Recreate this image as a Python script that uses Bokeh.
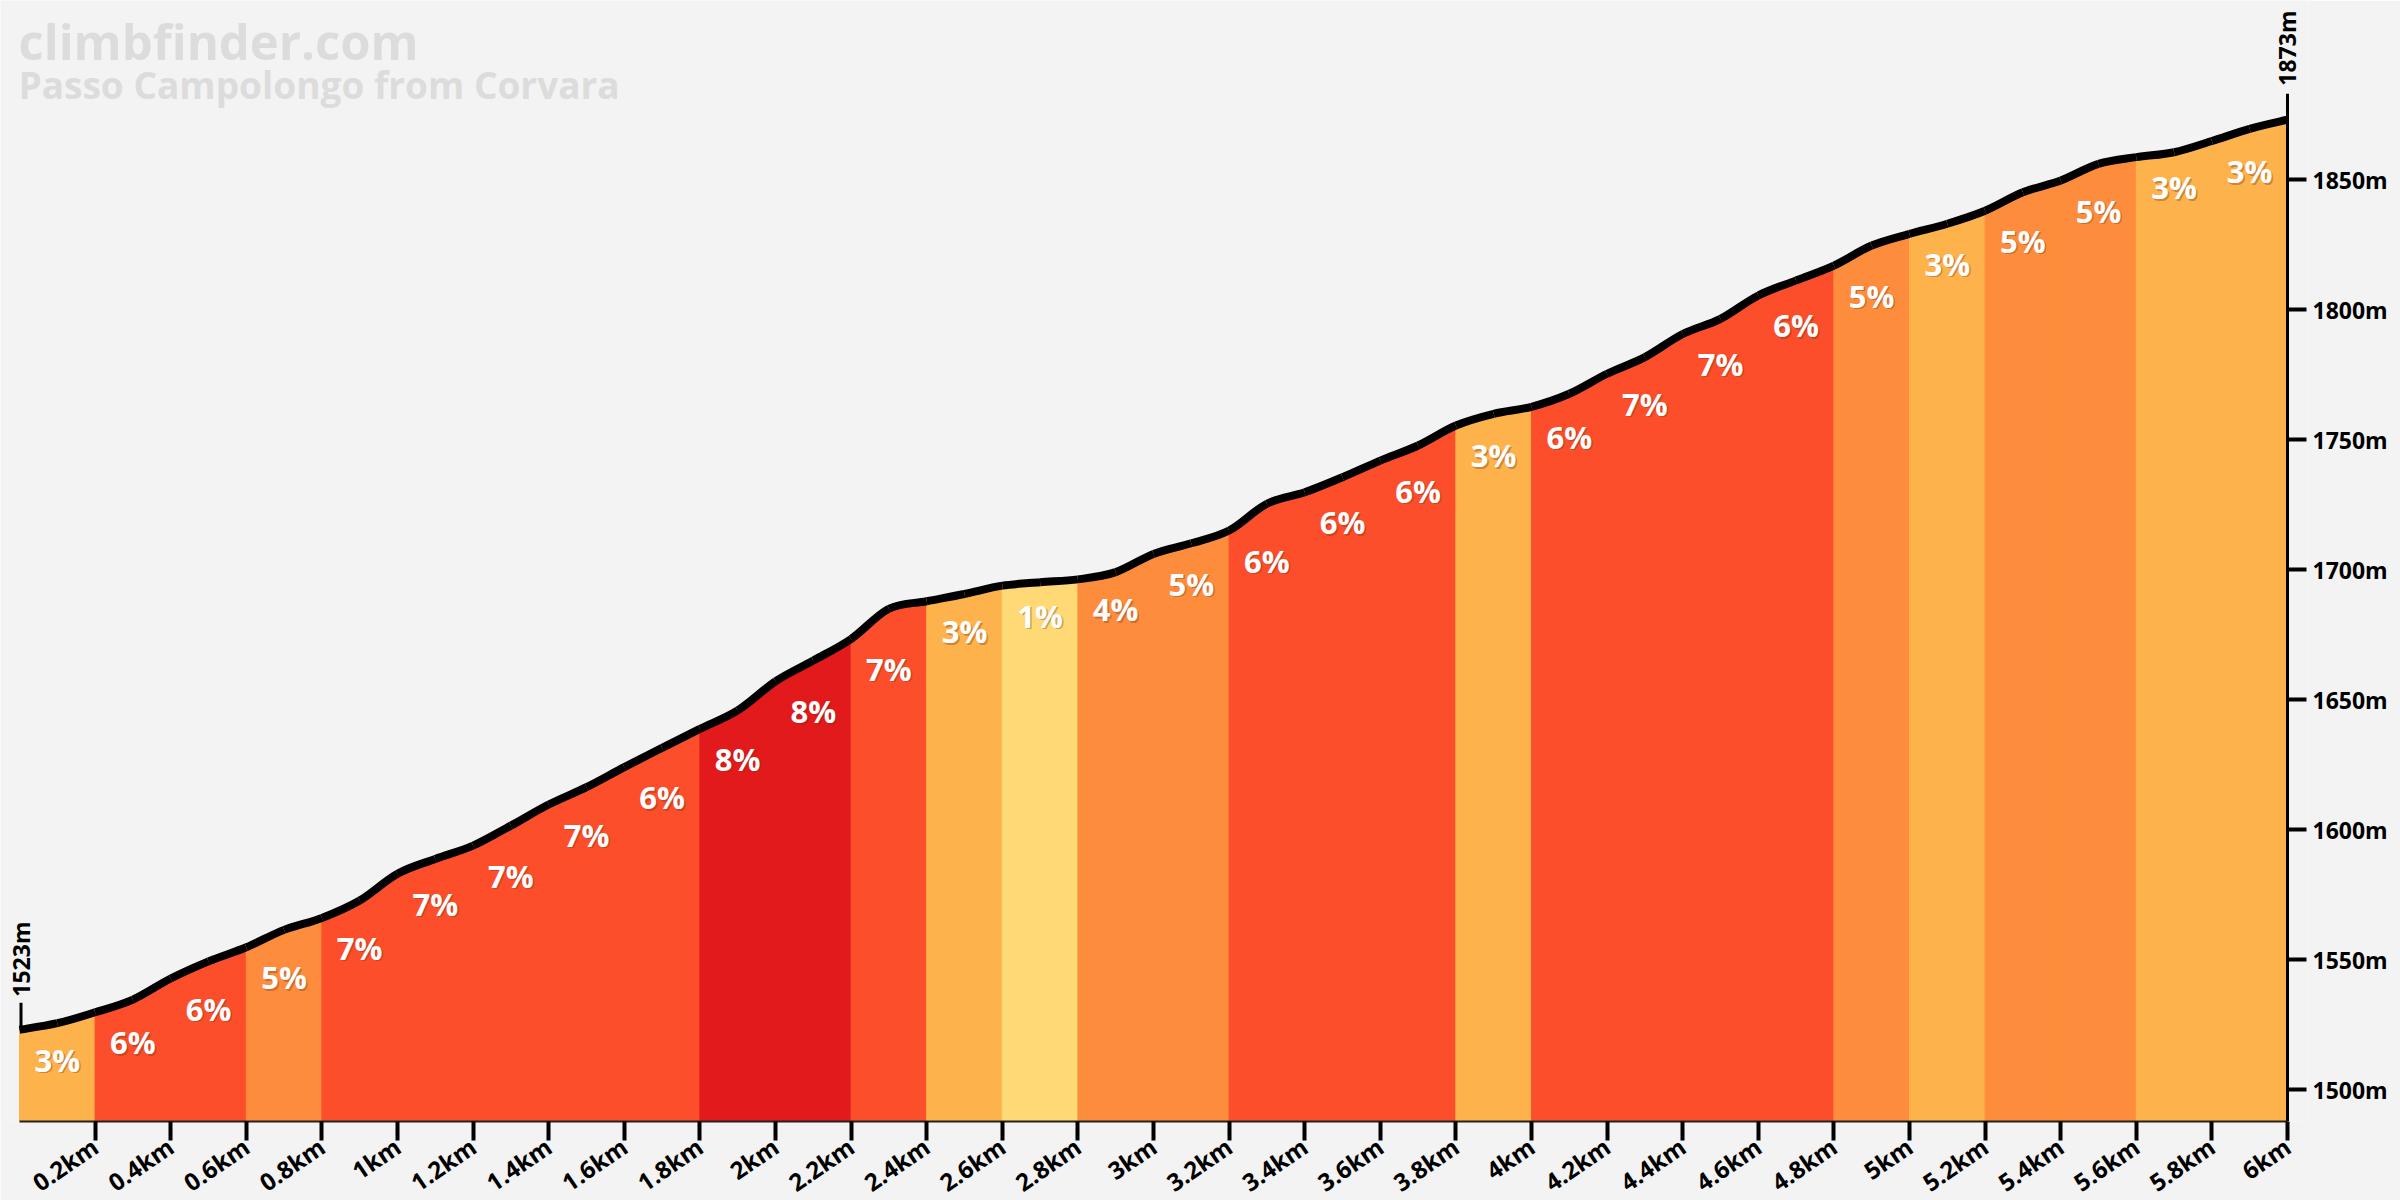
import math

from bokeh.core.properties import value
from bokeh.embed import file_html
from bokeh.models import CustomJSTickFormatter, FixedTicker, Label, Range1d
from bokeh.plotting import figure
from bokeh.resources import INLINE

# ---- climb data -------------------------------------------------------------
distance_km = [round(0.1 * i, 1) for i in range(61)]
elevation_m = [
    1523.0, 1525.5, 1529.7, 1534.6, 1542.7, 1549.3, 1554.7, 1561.4, 1566.0, 1572.7,
    1583.0, 1588.7, 1593.8, 1601.5, 1609.6, 1616.3, 1624.0, 1631.4, 1638.7, 1645.8,
    1657.0, 1665.0, 1673.3, 1684.9, 1687.8, 1690.6, 1693.8, 1695.1, 1696.2, 1699.0,
    1706.0, 1710.1, 1715.0, 1725.3, 1729.7, 1735.5, 1741.9, 1747.7, 1755.4, 1759.9,
    1762.6, 1767.6, 1775.3, 1781.7, 1790.6, 1796.4, 1805.4, 1811.2, 1816.9, 1824.6,
    1829.1, 1833.0, 1838.0, 1845.1, 1849.6, 1856.0, 1858.6, 1860.5, 1864.8, 1869.5,
    1873.0,
]
# average gradient of each 200 m section
segment_grades = [3, 6, 6, 5, 7, 7, 7, 7, 6, 8, 8, 7, 3, 1, 4,
                  5, 6, 6, 6, 3, 6, 7, 7, 6, 5, 3, 5, 5, 3, 3]
x_ticks = [0.2, 0.4, 0.6, 0.8, 1.0, 1.2, 1.4, 1.6, 1.8, 2.0, 2.2, 2.4, 2.6, 2.8, 3.0,
           3.2, 3.4, 3.6, 3.8, 4.0, 4.2, 4.4, 4.6, 4.8, 5.0, 5.2, 5.4, 5.6, 5.8, 6.0]
y_ticks = [1500, 1550, 1600, 1650, 1700, 1750, 1800, 1850]
start_elev = 1523
summit_elev = 1873
title = "climbfinder.com"
subtitle = "Passo Campolongo from Corvara"

# ---- styling ----------------------------------------------------------------
BG = "#f3f3f3"
FONT_NAME = "Open Sans"
FONT = value(FONT_NAME)


def grade_color(g):
    if g <= 1:
        return "#fed976"
    if g <= 3:
        return "#feb24c"
    if g <= 5:
        return "#fd8d3c"
    if g <= 7:
        return "#fc4e2a"
    return "#e31a1c"


X0, X1 = 0.0, 6.0
PROFILE_W = 2268          # pixels covered by the 6 km
PAD_L, PAD_R = 19, 20     # frame space left of 0 km / right of 6 km
TICK_LEN = 19
FRAME_H = 1121
PX_PER_M = 2.6
Y0 = 1487.7
Y1 = Y0 + FRAME_H / PX_PER_M


def m(px):
    """screen pixels -> metres of elevation"""
    return px / PX_PER_M


def km(px):
    """screen pixels -> km of distance"""
    return px * (X1 - X0) / PROFILE_W


p = figure(
    frame_width=PAD_L + PROFILE_W + PAD_R, frame_height=FRAME_H,
    x_range=Range1d(X0 - km(PAD_L), X1 + km(PAD_R)), y_range=Range1d(Y0, Y1),
    y_axis_location="right",
    output_backend="svg", toolbar_location=None,
    min_border_left=0, min_border_right=113 - PAD_R, min_border_top=0, min_border_bottom=79,
    background_fill_color=BG, border_fill_color=BG, outline_line_color=None,
)
p.xgrid.visible = False
p.ygrid.visible = False

# coloured 200 m sections under the profile
xs, ys, colors = [], [], []
for i, g in enumerate(segment_grades):
    a, b = 2 * i, 2 * i + 2
    seg_x = distance_km[a:b + 1]
    seg_y = elevation_m[a:b + 1]
    xs.append(seg_x + [seg_x[-1], seg_x[0]])
    ys.append(seg_y + [Y0, Y0])
    colors.append(grade_color(g))
p.patches(xs, ys, fill_color=colors, line_color=colors, line_width=1)

# elevation scale line and ticks at the 6 km mark (labels come from the axis)
p.segment(x0=[X1], y0=[Y0], x1=[X1], y1=[summit_elev + m(26)], line_color="black", line_width=3)
p.segment(x0=[X1] * len(y_ticks), y0=y_ticks, x1=[X1 + km(TICK_LEN)] * len(y_ticks), y1=y_ticks,
          line_color="black", line_width=4)

# profile line, drawn as a smooth curve through the samples
n = len(distance_km)
bx0, by0, bx1, by1, cx0, cy0, cx1, cy1 = ([] for _ in range(8))
for i in range(n - 1):
    xa_, ya_ = distance_km[max(i - 1, 0)], elevation_m[max(i - 1, 0)]
    xb, yb = distance_km[i], elevation_m[i]
    xc, yc = distance_km[i + 1], elevation_m[i + 1]
    xd, yd = distance_km[min(i + 2, n - 1)], elevation_m[min(i + 2, n - 1)]
    bx0.append(xb); by0.append(yb); bx1.append(xc); by1.append(yc)
    cx0.append(xb + (xc - xa_) / 6); cy0.append(yb + (yc - ya_) / 6)
    cx1.append(xc - (xd - xb) / 6); cy1.append(yc - (yd - yb) / 6)
p.bezier(x0=bx0, y0=by0, x1=bx1, y1=by1, cx0=cx0, cy0=cy0, cx1=cx1, cy1=cy1,
         line_color="black", line_width=8, line_cap="butt")

# gradient labels
lab_x = [distance_km[2 * i + 1] for i in range(len(segment_grades))]
lab_y = [elevation_m[2 * i] - m(30) for i in range(len(segment_grades))]
lab_t = [f"{g}%" for g in segment_grades]
p.text(lab_x, lab_y, text=lab_t, text_font=FONT, text_font_style="bold",
       text_font_size="31px", text_color="#7a2e10", text_alpha=0.35,
       text_align="center", text_baseline="middle", x_offset=1.5, y_offset=1.5)
p.text(lab_x, lab_y, text=lab_t, text_font=FONT, text_font_style="bold",
       text_font_size="31px", text_color="white",
       text_align="center", text_baseline="middle")

# start / summit markers
p.segment(x0=[X0 + km(1.5)], y0=[start_elev], x1=[X0 + km(1.5)], y1=[start_elev + m(27)],
          line_color="black", line_width=3)
p.add_layout(Label(x=X0 + km(1), y=start_elev + m(33), text=f"{start_elev}m", angle=math.pi / 2,
                   text_align="left", text_baseline="middle", text_font=FONT_NAME,
                   text_font_style="bold", text_font_size="23px", text_color="black"))
p.add_layout(Label(x=X1 - km(1), y=summit_elev + m(34), text=f"{summit_elev}m", angle=math.pi / 2,
                   text_align="left", text_baseline="middle", text_font=FONT_NAME,
                   text_font_style="bold", text_font_size="23px", text_color="black"))

# heading
p.add_layout(Label(x=X0 - km(1), y=Y1 - m(40), text=title, text_font=FONT_NAME,
                   text_font_style="bold", text_font_size="49px", text_color="#dcdcdc",
                   text_align="left", text_baseline="alphabetic"))
p.add_layout(Label(x=X0 - km(1), y=Y1 - m(84), text=subtitle, text_font=FONT_NAME,
                   text_font_style="bold", text_font_size="37px", text_color="#dcdcdc",
                   text_align="left", text_baseline="alphabetic"))

# distance axis
xa = p.xaxis[0]
xa.bounds = (X0, X1)
xa.ticker = FixedTicker(ticks=x_ticks)
xa.formatter = CustomJSTickFormatter(code="return (Math.round(tick * 10) / 10) + 'km';")
xa.major_label_orientation = 0.6
xa.major_label_text_font = FONT_NAME
xa.major_label_text_font_style = "bold"
xa.major_label_text_font_size = "24px"
xa.major_label_text_color = "black"
xa.major_label_standoff = 3
xa.major_tick_out = 19
xa.major_tick_in = 0
xa.major_tick_line_width = 4
xa.major_tick_line_color = "black"
xa.minor_tick_line_color = None
xa.axis_line_width = 2
xa.axis_line_color = "#222222"

# elevation axis labels, set just past the ticks drawn at 6 km
ya = p.yaxis[0]
ya.ticker = FixedTicker(ticks=y_ticks)
ya.formatter = CustomJSTickFormatter(code="return tick + 'm';")
ya.major_label_text_font = FONT_NAME
ya.major_label_text_font_style = "bold"
ya.major_label_text_font_size = "23px"
ya.major_label_text_color = "black"
ya.major_label_standoff = TICK_LEN + 6 - PAD_R
ya.major_tick_out = 0
ya.major_tick_in = 0
ya.major_tick_line_color = None
ya.minor_tick_line_color = None
ya.axis_line_color = None

open("out.html", "w").write(file_html(p, INLINE))
